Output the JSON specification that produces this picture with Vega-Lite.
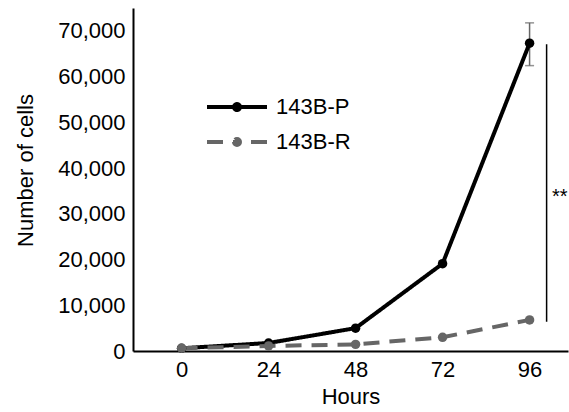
{
  "$schema": "https://vega.github.io/schema/vega-lite/v6.json",
  "width": 435,
  "height": 343,
  "autosize": "none",
  "padding": {"left": 133, "top": 8, "right": 1, "bottom": 61},
  "background": "white",
  "config": {
    "view": {"stroke": null},
    "font": "Liberation Sans",
    "axis": {
      "grid": false,
      "ticks": false,
      "domainColor": "black",
      "domainWidth": 2,
      "labelFont": "Liberation Sans",
      "labelFontSize": 22,
      "labelColor": "black",
      "titleFont": "Liberation Sans",
      "titleFontSize": 22,
      "titleFontWeight": "normal",
      "titleColor": "black"
    }
  },
  "datasets": {
    "growth": [
      {"hour": 0, "cells": 600, "line": "143B-P"},
      {"hour": 24, "cells": 1750, "line": "143B-P"},
      {"hour": 48, "cells": 5000, "line": "143B-P"},
      {"hour": 72, "cells": 19100, "line": "143B-P"},
      {"hour": 96, "cells": 67300, "line": "143B-P"},
      {"hour": 0, "cells": 600, "line": "143B-R"},
      {"hour": 24, "cells": 1100, "line": "143B-R"},
      {"hour": 48, "cells": 1450, "line": "143B-R"},
      {"hour": 72, "cells": 3000, "line": "143B-R"},
      {"hour": 96, "cells": 6800, "line": "143B-R"}
    ],
    "err": [{"hour": 96, "lo": 62400, "hi": 71750}],
    "sig": [{"x": 100.7, "y1": 6400, "y2": 67100, "ty": 33600, "tx": 104.3, "label": "**"}]
  },
  "layer": [
    {
      "data": {"name": "err"},
      "mark": {"type": "errorbar", "color": "#666666", "thickness": 1.5, "ticks": {"size": 9, "color": "#666666", "thickness": 1.5}},
      "encoding": {
        "x": {"field": "hour", "type": "quantitative", "title": "Hours"},
        "y": {"field": "lo", "type": "quantitative", "title": "Number of cells"},
        "y2": {"field": "hi"}
      }
    },
    {
      "data": {"name": "growth"},
      "mark": {"type": "line", "strokeWidth": 4},
      "encoding": {
        "x": {"field": "hour", "type": "quantitative", "title": "Hours",
          "scale": {"domain": [-13.4, 106.6], "nice": false, "zero": false},
          "axis": {"values": [0, 24, 48, 72, 96], "labelPadding": 8, "titlePadding": 6, "labelFlush": false}
        },
        "y": {"field": "cells", "type": "quantitative", "title": "Number of cells",
          "scale": {"domain": [0, 75000], "nice": false},
          "axis": {"values": [0, 10000, 20000, 30000, 40000, 50000, 60000, 70000], "format": ",.0f", "labelPadding": 8, "titleX": -108, "titleY": 162, "titleBaseline": "middle", "labelFlush": false}
        },
        "color": {"field": "line", "type": "nominal",
          "scale": {"domain": ["143B-P", "143B-R"], "range": ["#000000", "#666666"]},
          "legend": {
            "title": null, "orient": "none", "legendX": 93, "legendY": 88,
            "padding": 0, "labelFontSize": 22, "labelFont": "Liberation Sans", "labelColor": "black",
            "labelOffset": 28, "rowPadding": 13, "symbolSize": 100, "symbolStrokeWidth": 4,
            "symbolType": "M-6,0H0M6,0H0M-0.6,0a0.6,0.6 0 1,0 1.2,0a0.6,0.6 0 1,0 -1.2,0",
            "encode": {"symbols": {"update": {"fill": {"scale": "color", "field": "value"}}}}
          }
        },
        "strokeDash": {"field": "line", "type": "nominal",
          "scale": {"domain": ["143B-P", "143B-R"], "range": [[1, 0], [16, 10]]},
          "legend": {
            "title": null, "orient": "none", "legendX": 93, "legendY": 88,
            "padding": 0, "labelFontSize": 22, "labelFont": "Liberation Sans", "labelColor": "black",
            "labelOffset": 28, "rowPadding": 13, "symbolSize": 100, "symbolStrokeWidth": 4,
            "symbolType": "M-6,0H0M6,0H0M-0.6,0a0.6,0.6 0 1,0 1.2,0a0.6,0.6 0 1,0 -1.2,0",
            "encode": {"symbols": {"update": {"fill": {"scale": "color", "field": "value"}}}}
          }
        }
      }
    },
    {
      "data": {"name": "growth"},
      "mark": {"type": "point", "filled": true, "size": 90, "opacity": 1},
      "encoding": {
        "x": {"field": "hour", "type": "quantitative", "title": "Hours"},
        "y": {"field": "cells", "type": "quantitative", "title": "Number of cells"},
        "color": {"field": "line", "type": "nominal", "legend": null}
      }
    },
    {
      "data": {"name": "sig"},
      "mark": {"type": "rule", "color": "black", "strokeWidth": 1.5},
      "encoding": {
        "x": {"field": "x", "type": "quantitative", "title": "Hours"},
        "y": {"field": "y1", "type": "quantitative", "title": "Number of cells"},
        "y2": {"field": "y2"}
      }
    },
    {
      "data": {"name": "sig"},
      "mark": {"type": "text", "fontSize": 20, "font": "Liberation Sans", "color": "black", "align": "center", "baseline": "middle"},
      "encoding": {
        "x": {"field": "tx", "type": "quantitative", "title": "Hours"},
        "y": {"field": "ty", "type": "quantitative", "title": "Number of cells"},
        "text": {"field": "label"}
      }
    }
  ]
}
